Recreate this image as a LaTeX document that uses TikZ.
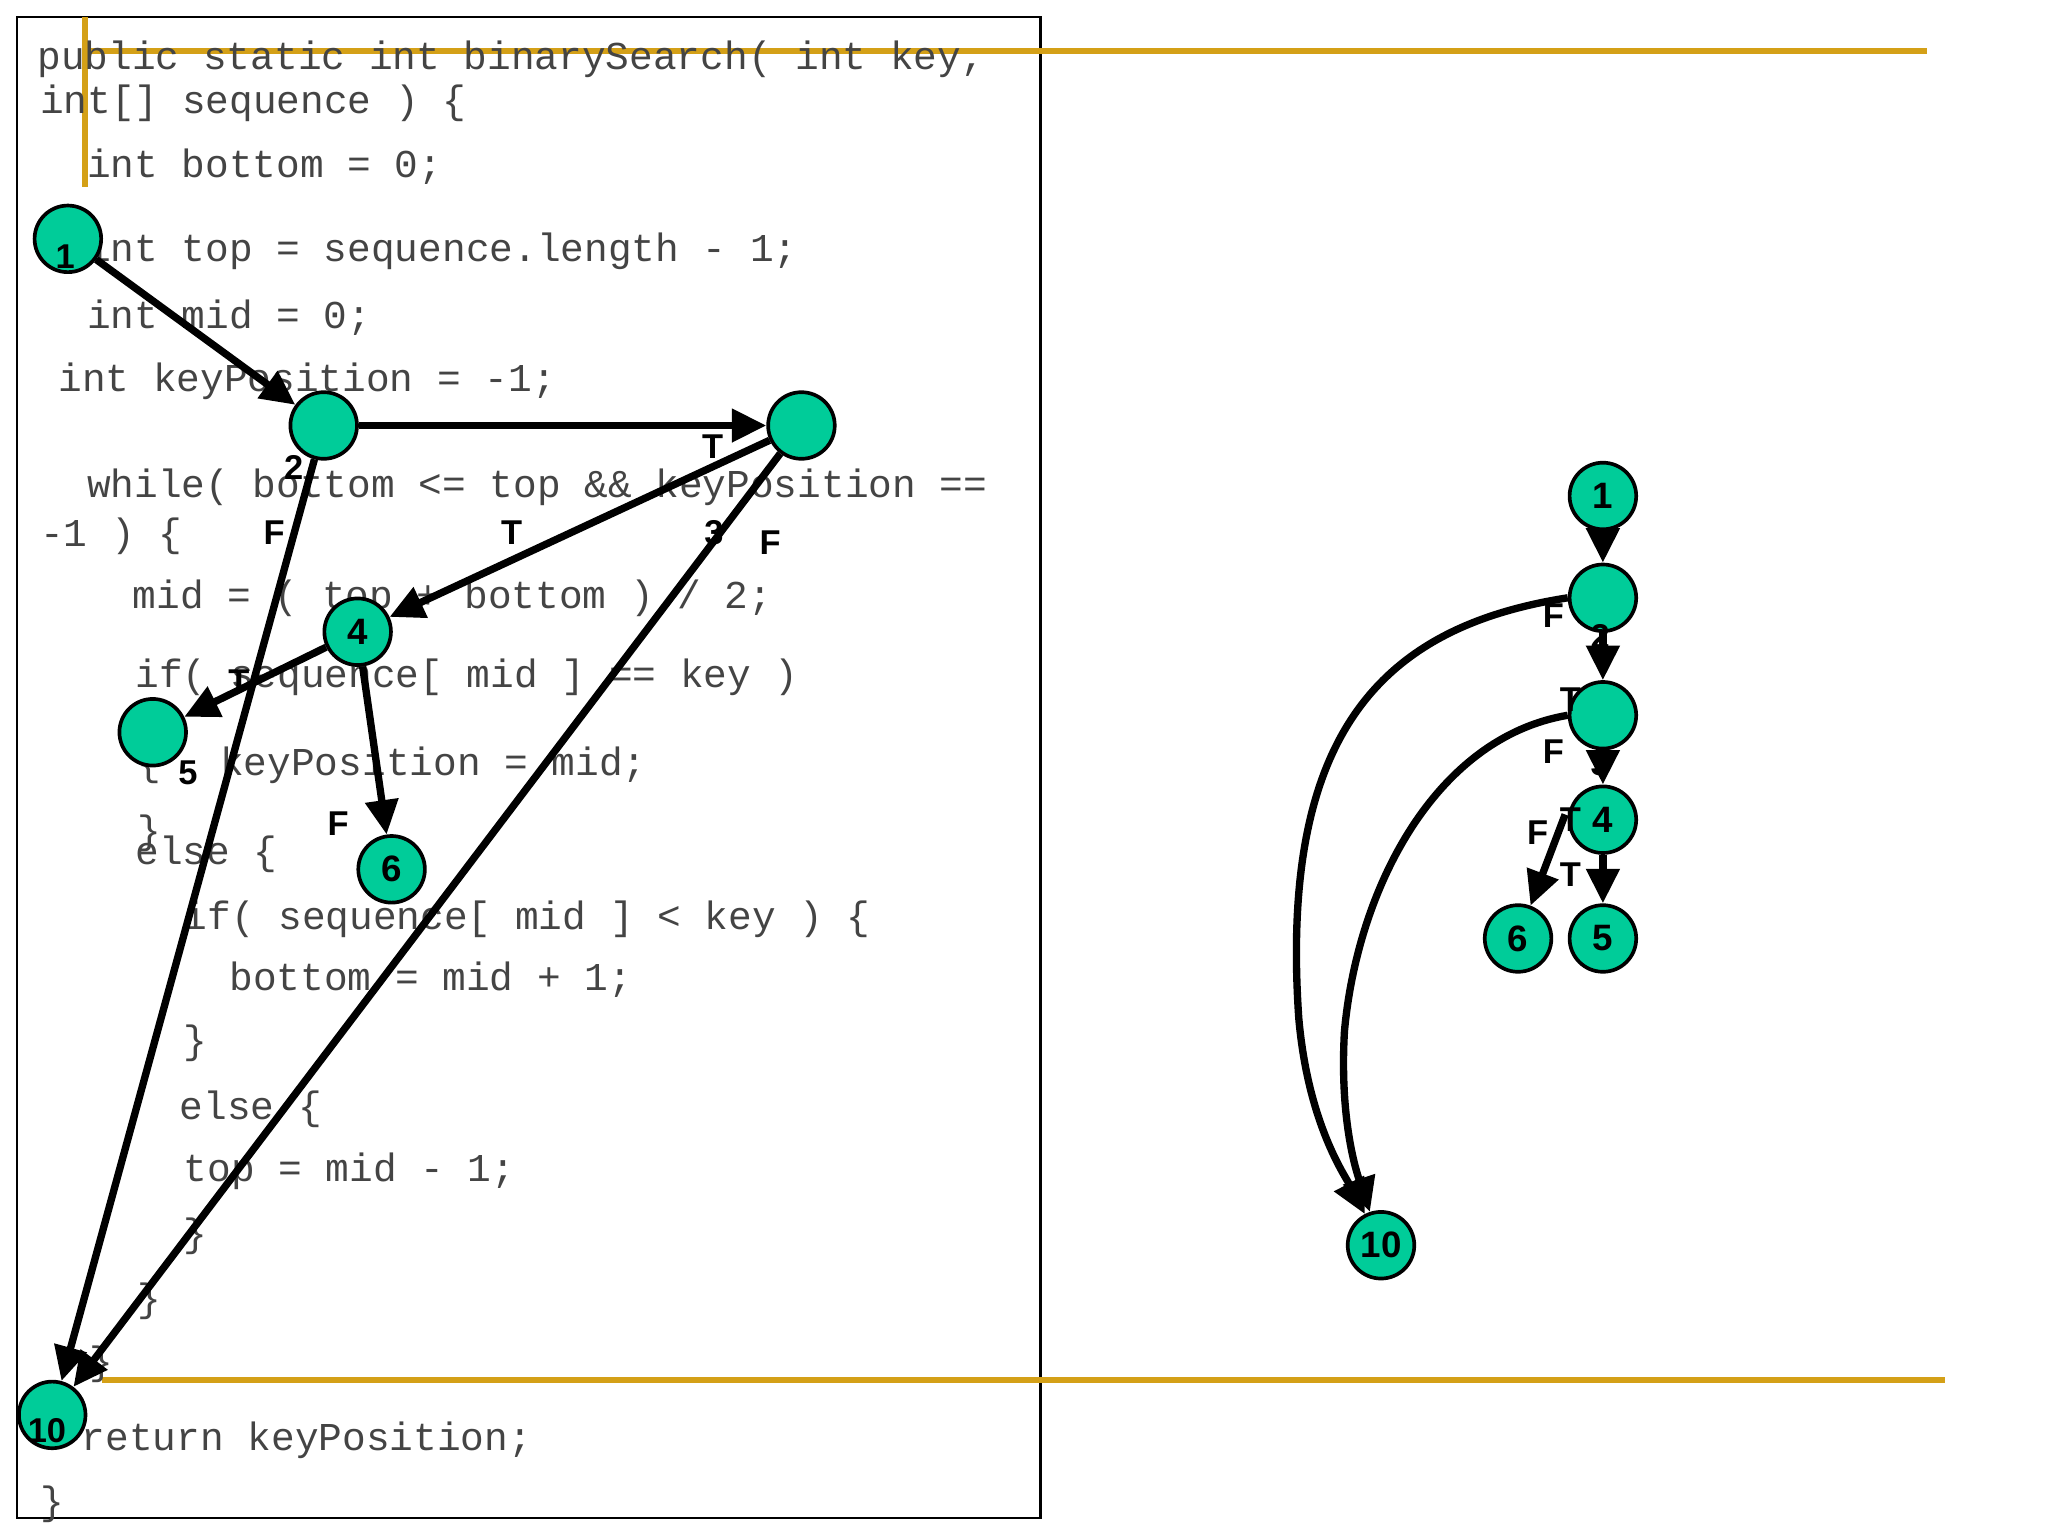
\documentclass[tikz,border=0pt]{standalone}
\usepackage{fontspec}
\setmainfont{Liberation Sans}
\setmonofont{Liberation Mono}
\usetikzlibrary{arrows.meta}
\definecolor{nodeg}{HTML}{00CC99}
\definecolor{yel}{HTML}{D4A017}
\definecolor{codec}{HTML}{444444}
\tikzset{
 cnode/.style={circle,draw=black,fill=nodeg,line width=0.8pt,minimum size=0.51cm,inner sep=0pt,font=\fontsize{8}{9}\selectfont\bfseries},
 code/.style={anchor=base west,inner sep=0pt,text=codec,font=\fontsize{8.6}{9}\selectfont\ttfamily},
 lab/.style={inner sep=0pt,font=\fontsize{7.5}{8}\selectfont\bfseries},
 edge/.style={line width=1.6pt,-{Triangle[length=7.5pt,width=7pt]}},
}
\begin{document}
\begin{tikzpicture}[x=0.01cm,y=-0.01cm]
\useasboundingbox (0,0) rectangle (1569,1177);
\draw[line width=0.6pt] (13,13) rectangle (797,1163);
\draw[yel,line width=1.3pt] (65,39) -- (1476,39);
\draw[yel,line width=1.3pt] (65,13) -- (65,143);
\draw[yel,line width=1.3pt] (78,1057) -- (1490,1057);
% code
\node[code] at (28,53) {public static int binarySearch( int key,};
\node[code] at (30,87) {int[] sequence ) \{};
\node[code] at (66,136) {int bottom = 0;};
\node[code] at (66,200) {int top = sequence.length - 1;};
\node[code] at (66,252) {int mid = 0;};
\node[code] at (44,300) {int keyPosition = -1;};
\node[code] at (66,381) {while( bottom <= top \&\& keyPosition ==};
\node[code] at (30,419) {-1 ) \{};
\node[code] at (101,466) {mid = ( top + bottom ) / 2;};
\node[code] at (103,527) {if( sequence[ mid ] == key )};
\node[code] at (105,594) {\{};
\node[code] at (168,594) {keyPosition = mid;};
\node[code] at (105,646) {\}};
\node[code] at (103,662) {else \{};
\node[code] at (140,712) {if( sequence[ mid ] < key ) \{};
\node[code] at (175,759) {bottom = mid + 1;};
\node[code] at (140,807) {\}};
\node[code] at (137,858) {else \{};
\node[code] at (140,905) {top = mid - 1;};
\node[code] at (140,955) {\}};
\node[code] at (105,1005) {\}};
\node[code] at (68,1053) {\}};
\node[code] at (62,1111) {return keyPosition;};
\node[code] at (30,1160) {\}};
% left graph
\node[cnode] (a1) at (52,183) {};
\node[cnode] (a2) at (248,326) {};
\node[cnode] (a3) at (614,326) {};
\node[cnode] (a4) at (274,484) {4};
\node[cnode] (a5) at (117,561) {};
\node[cnode] (a6) at (300,666) {6};
\node[cnode] (a10) at (40,1084) {};
\node[lab] (l1) at (50,197) {1};
\node[lab] (l2) at (225,358) {2};
\node[lab] (l3) at (547,408) {3};
\node[lab] (l5) at (144,592) {5};
\node[lab] (l10) at (36,1096) {10};
\draw[edge] (a1) -- (a2);
\draw[edge] (a2) -- (a3);
\draw[edge] (a3) -- (a4);
\draw[edge] (a2) -- (a10);
\draw[edge] (a3) -- (a10);
\draw[edge] (a4) -- (a5);
\draw[edge] (a4) -- (a6);
\node[lab] at (546,342) {T};
\node[lab] at (392,408) {T};
\node[lab] at (210,408) {F};
\node[lab] at (590,416) {F};
\node[lab] at (183,522) {T};
\node[lab] at (259,631) {F};
% right graph
\node[cnode] (b1) at (1228,380) {1};
\node[cnode] (b2) at (1228,458) {};
\node[cnode] (b3) at (1228,548) {};
\node[cnode] (b4) at (1228,628) {4};
\node[cnode] (b6) at (1163,719) {6};
\node[cnode] (b5) at (1228,719) {5};
\node[cnode] (b10) at (1058,954) {10};
\draw[edge] (b1) -- (b2);
\draw[edge] (b2) -- (b3);
\draw[edge] (b3) -- (b4);
\draw[edge] (b4) -- (b5);
\draw[edge] (b4.west) ++(-2,-4) coordinate (s46) -- (b6);
\draw[edge] (b2.west) .. controls (1060,480) and (980,560) .. (995,780) .. controls (1002,860) and (1030,900) .. (b10);
\draw[edge] (b3.west) .. controls (1100,565) and (1040,680) .. (1030,790) .. controls (1026,860) and (1040,900) .. (b10);
\node[lab] at (1226,488) {2};
\node[lab] at (1226,585) {3};
\node[lab] at (1190,472) {F};
\node[lab] at (1203,536) {T};
\node[lab] at (1190,576) {F};
\node[lab] at (1178,638) {F};
\node[lab] at (1203,628) {T};
\node[lab] at (1203,670) {T};
\end{tikzpicture}
\end{document}
